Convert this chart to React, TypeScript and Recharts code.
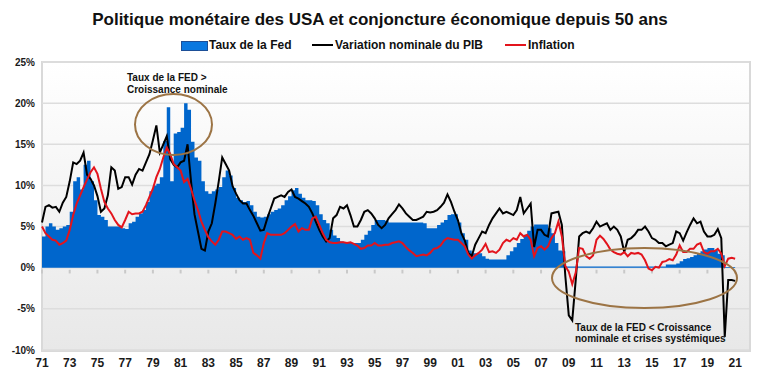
import { ComposedChart, Area, Line, XAxis, YAxis, CartesianGrid, ReferenceLine } from 'recharts';

// quarterly values, 1971 Q1 -> 2021 Q1 (in %)
const fedRate = [
  3.8, 5.0, 5.4, 5.0, // 1971
  4.6, 4.8, 5.0, 5.2, // 1972
  6.8, 10.5, 11.0, 9.5, // 1973
  12.5, 13.0, 10.5, 8.2, // 1974
  6.4, 6.2, 5.8, 5.0, // 1975
  5.0, 5.0, 5.0, 4.8, // 1976
  4.7, 5.4, 5.6, 6.2, // 1977
  6.6, 7.0, 8.0, 9.3, // 1978
  10.0, 10.2, 11.0, 15.4, // 1979
  19.5, 10.5, 16.3, 16.5, // 1980
  17.0, 20.0, 19.2, 15.3, // 1981
  13.4, 13.0, 10.5, 9.3, // 1982
  9.0, 9.3, 9.5, 9.8, // 1983
  11.0, 11.8, 11.2, 9.7, // 1984
  8.5, 8.2, 8.0, 8.1, // 1985
  7.6, 6.8, 6.2, 6.1, // 1986
  6.2, 6.5, 6.8, 7.0, // 1987
  7.2, 7.6, 8.2, 8.7, // 1988
  9.4, 9.7, 9.0, 8.5, // 1989
  8.2, 8.2, 8.1, 7.6, // 1990
  6.5, 5.8, 5.4, 4.6, // 1991
  3.9, 3.6, 3.2, 3.0, // 1992
  3.0, 3.0, 3.0, 3.0, // 1993
  3.4, 4.0, 4.5, 5.2, // 1994
  5.8, 5.8, 5.8, 5.7, // 1995
  5.5, 5.5, 5.5, 5.5, // 1996
  5.5, 5.5, 5.5, 5.5, // 1997
  5.5, 5.5, 5.4, 4.8, // 1998
  4.8, 4.8, 5.2, 5.5, // 1999
  5.8, 6.4, 6.5, 6.5, // 2000
  5.5, 4.2, 3.4, 2.1, // 2001
  1.75, 1.75, 1.75, 1.4, // 2002
  1.1, 1.0, 1.0, 1.0, // 2003
  1.0, 1.0, 1.5, 2.0, // 2004
  2.5, 3.0, 3.5, 4.0, // 2005
  4.5, 5.0, 5.25, 5.25, // 2006
  5.25, 5.25, 4.8, 4.2, // 2007
  3.0, 2.1, 2.0, 0.15, // 2008
  0.15, 0.15, 0.15, 0.15, // 2009
  0.15, 0.15, 0.15, 0.15, // 2010
  0.15, 0.15, 0.15, 0.15, // 2011
  0.15, 0.15, 0.15, 0.15, // 2012
  0.15, 0.15, 0.15, 0.15, // 2013
  0.15, 0.15, 0.15, 0.15, // 2014
  0.15, 0.15, 0.15, 0.15, // 2015
  0.38, 0.38, 0.4, 0.5, // 2016
  0.8, 1.05, 1.15, 1.3, // 2017
  1.5, 1.8, 2.0, 2.2, // 2018
  2.4, 2.4, 2.15, 1.7, // 2019
  1.5, 0.1, 0.1, 0.1, // 2020
  0.1, // 2021
];

const gdpGrowth = [
  5.5, 7.4, 7.6, 7.3, // 1971
  7.4, 6.8, 7.9, 8.6, // 1972
  10.5, 12.8, 12.6, 13.0, // 1973
  14.0, 11.3, 10.8, 10.0, // 1974
  8.7, 6.8, 7.2, 8.8, // 1975
  12.2, 11.8, 9.6, 9.8, // 1976
  11.0, 11.0, 10.1, 11.3, // 1977
  12.0, 11.8, 12.8, 13.8, // 1978
  15.5, 17.3, 14.0, 15.0, // 1979
  16.0, 13.2, 12.5, 12.2, // 1980
  12.8, 13.0, 15.0, 10.5, // 1981
  6.5, 4.4, 2.3, 2.1, // 1982
  4.4, 5.4, 7.8, 10.5, // 1983
  13.4, 12.6, 11.8, 9.9, // 1984
  9.0, 8.2, 7.8, 7.8, // 1985
  7.0, 6.3, 5.4, 4.5, // 1986
  4.6, 6.0, 7.2, 8.4, // 1987
  8.6, 8.8, 8.6, 9.2, // 1988
  9.5, 8.6, 8.4, 8.1, // 1989
  7.8, 7.4, 6.6, 5.6, // 1990
  4.6, 3.8, 3.2, 3.6, // 1991
  6.0, 6.4, 7.4, 7.2, // 1992
  7.6, 6.4, 5.0, 5.0, // 1993
  5.8, 6.8, 7.0, 6.6, // 1994
  6.0, 5.2, 4.8, 5.2, // 1995
  6.0, 6.5, 7.0, 7.7, // 1996
  7.2, 6.6, 6.2, 5.8, // 1997
  5.8, 6.0, 6.2, 6.8, // 1998
  6.7, 6.8, 7.0, 7.4, // 1999
  7.9, 8.9, 8.0, 6.8, // 2000
  5.8, 4.2, 3.3, 1.8, // 2001
  1.4, 2.8, 3.6, 4.4, // 2002
  4.2, 5.2, 6.0, 6.6, // 2003
  7.2, 6.6, 6.8, 6.6, // 2004
  6.4, 7.0, 8.6, 6.6, // 2005
  7.2, 7.8, 2.5, 4.6, // 2006
  4.6, 4.0, 3.8, 6.6, // 2007
  6.7, 6.8, 5.2, -1.0, // 2008
  -5.8, -6.4, -1.5, 3.8, // 2009
  4.2, 4.4, 4.2, 4.8, // 2010
  5.6, 5.0, 5.2, 5.4, // 2011
  4.6, 5.0, 4.6, 3.8, // 2012
  1.9, 3.4, 3.6, 4.0, // 2013
  4.6, 4.6, 5.0, 4.4, // 2014
  3.6, 3.4, 3.0, 3.0, // 2015
  2.6, 2.8, 3.0, 4.4, // 2016
  4.2, 3.3, 4.3, 5.2, // 2017
  6.0, 5.4, 5.6, 4.4, // 2018
  3.8, 3.8, 4.0, 4.7, // 2019
  3.6, -8.4, -1.5, -1.5, // 2020
  -1.6, // 2021
];

const inflation = [
  5.0, 4.2, 3.8, 3.4, // 1971
  3.3, 2.8, 3.0, 3.3, // 1972
  4.6, 6.4, 7.8, 8.8, // 1973
  9.8, 10.7, 11.6, 12.2, // 1974
  11.4, 9.6, 8.0, 7.2, // 1975
  6.6, 5.8, 5.2, 4.9, // 1976
  5.8, 6.8, 6.5, 6.6, // 1977
  6.6, 6.8, 7.6, 8.6, // 1978
  9.6, 11.0, 12.0, 13.4, // 1979
  14.6, 13.8, 12.6, 12.2, // 1980
  11.8, 10.4, 10.8, 9.6, // 1981
  8.2, 7.0, 5.6, 4.6, // 1982
  3.7, 3.2, 2.8, 3.4, // 1983
  4.4, 4.4, 4.2, 4.0, // 1984
  3.5, 3.8, 3.4, 3.6, // 1985
  3.4, 1.8, 1.5, 1.1, // 1986
  3.0, 4.2, 4.0, 4.0, // 1987
  4.0, 4.0, 4.2, 4.6, // 1988
  5.0, 5.3, 4.4, 4.8, // 1989
  4.6, 4.6, 6.0, 6.2, // 1990
  5.2, 4.2, 3.4, 3.1, // 1991
  3.0, 3.0, 3.1, 3.1, // 1992
  3.0, 3.1, 2.9, 2.7, // 1993
  2.3, 2.4, 2.7, 2.7, // 1994
  3.0, 2.7, 2.7, 2.8, // 1995
  2.8, 3.0, 3.1, 3.2, // 1996
  3.0, 2.5, 2.1, 1.8, // 1997
  1.4, 1.5, 1.6, 1.5, // 1998
  1.8, 2.3, 2.4, 2.7, // 1999
  3.3, 3.6, 3.5, 3.4, // 2000
  3.4, 3.0, 2.6, 1.6, // 2001
  1.1, 1.5, 1.8, 2.2, // 2002
  2.9, 1.9, 2.0, 1.8, // 2003
  2.2, 3.0, 3.4, 3.2, // 2004
  3.6, 3.4, 4.2, 3.8, // 2005
  4.0, 3.4, 1.4, 2.4, // 2006
  2.6, 2.2, 2.6, 3.6, // 2007
  4.2, 5.6, 3.8, 0.2, // 2008
  -0.5, -2.0, -0.6, 2.4, // 2009
  2.3, 1.4, 1.1, 1.5, // 2010
  3.4, 3.9, 3.5, 2.9, // 2011
  2.2, 1.9, 1.7, 1.6, // 2012
  1.9, 1.4, 1.8, 1.7, // 2013
  1.8, 1.6, 0.9, -0.1, // 2014
  -0.3, 0.1, 0.0, 0.7, // 2015
  0.8, 1.05, 0.9, 1.6, // 2016
  2.7, 1.9, 1.9, 2.3, // 2017
  2.3, 2.8, 3.0, 1.9, // 2018
  1.7, 2.0, 2.0, 2.3, // 2019
  1.7, 0.2, 1.1, 1.2, // 2020
  1.1, // 2021
];

const tickYears = [1971, 1973, 1975, 1977, 1979, 1981, 1983, 1985, 1987, 1989, 1991, 1993, 1995,
  1997, 1999, 2001, 2003, 2005, 2007, 2009, 2011, 2013, 2015, 2017, 2019, 2021];
const tickLabels = ['71', '73', '75', '77', '79', '81', '83', '85', '87', '89', '91', '93', '95',
  '97', '99', '01', '03', '05', '07', '09', '11', '13', '15', '17', '19', '21'];
const yTicks = [-10, -5, 0, 5, 10, 15, 20, 25];

const data = fedRate.map((fed, i) => ({
  t: 1971 + i / 4,
  fed,
  gdp: gdpGrowth[i],
  infl: inflation[i],
}));

const FONT = '"Liberation Sans", Arial, sans-serif';
const BLUE = '#0066cc';
const RED = '#e3141c';
const BROWN = '#9c7445';

export default function App() {
  return (
    <div style={{ position: 'absolute', left: 0, top: 0, width: 760, height: 376, background: '#fff', fontFamily: FONT, color: '#111' }}>
      <div style={{ position: 'absolute', left: 0, top: 10, width: 760, textAlign: 'center', fontSize: 17, fontWeight: 'bold', lineHeight: '20px' }}>
        Politique monétaire des USA et conjoncture économique depuis 50 ans
      </div>

      {/* legend */}
      <div style={{ position: 'absolute', left: 181, top: 41, width: 25, height: 8, background: '#0a78e0', border: '1px solid #1d4f97' }} />
      <div style={{ position: 'absolute', left: 209, top: 38, fontSize: 12, fontWeight: 'bold', lineHeight: '14px' }}>Taux de la Fed</div>
      <div style={{ position: 'absolute', left: 312, top: 44, width: 21, height: 2, background: '#000' }} />
      <div style={{ position: 'absolute', left: 335, top: 38, fontSize: 12, fontWeight: 'bold', lineHeight: '14px' }}>Variation nominale du PIB</div>
      <div style={{ position: 'absolute', left: 505, top: 44, width: 21, height: 2, background: RED }} />
      <div style={{ position: 'absolute', left: 528, top: 38, fontSize: 12, fontWeight: 'bold', lineHeight: '14px' }}>Inflation</div>

      {/* plot background */}
      <div style={{ position: 'absolute', left: 41, top: 61, width: 710, height: 291, boxSizing: 'border-box', border: '2px solid #d9d9d9', background: 'linear-gradient(#ffffff, #e8e8e8)' }} />

      <div style={{ position: 'absolute', left: 0, top: 0 }}>
        <ComposedChart width={760} height={376} data={data} margin={{ top: 62, right: 11, bottom: 0, left: 0 }}>
          <CartesianGrid vertical={false} stroke="#dddddd" strokeWidth={1.5} />
          <XAxis
            dataKey="t"
            type="number"
            domain={[1971, 2022]}
            ticks={tickYears}
            interval={0}
            tickFormatter={(v) => tickLabels[tickYears.indexOf(v)]}
            height={26}
            axisLine={false}
            tickLine={false}
            tickSize={0}
            tickMargin={8}
            tick={{ fontSize: 12, fontWeight: 'bold', fill: '#1a1a1a', fontFamily: FONT }}
          />
          <YAxis
            type="number"
            domain={[-10, 25]}
            ticks={yTicks}
            interval={0}
            width={42}
            axisLine={false}
            tickLine={false}
            tickSize={0}
            tickMargin={7}
            tickFormatter={(v) => `${v}%`}
            tick={{ fontSize: 10, fontWeight: 'bold', fill: '#1a1a1a', fontFamily: FONT }}
          />
          {tickYears.map((y) => (
            <ReferenceLine key={y} segment={[{ x: y, y: -0.25 }, { x: y, y: -0.7 }]} stroke="#c9c9c9" strokeWidth={2} />
          ))}
          <Area type="stepAfter" dataKey="fed" baseValue={0} fill={BLUE} fillOpacity={1} stroke="none" isAnimationActive={false} />
          <Line type="linear" dataKey="gdp" stroke="#000" strokeWidth={2} dot={false} isAnimationActive={false} />
          <Line type="linear" dataKey="infl" stroke={RED} strokeWidth={2} dot={false} isAnimationActive={false} />
        </ComposedChart>
      </div>

      {/* annotations */}
      <svg width={760} height={376} style={{ position: 'absolute', left: 0, top: 0, pointerEvents: 'none' }}>
        <ellipse cx={173.5} cy={124.5} rx={38.5} ry={30.5} fill="none" stroke={BROWN} strokeWidth={2} />
        <ellipse cx={644.5} cy={278} rx={92.5} ry={30} fill="none" stroke={BROWN} strokeWidth={2} />
        <g fontFamily={FONT} fontSize={10} fontWeight="bold" fill="#111">
          <text x={127} y={81}>Taux de la FED &gt;</text>
          <text x={127} y={93}>Croissance nominale</text>
          <text x={575} y={331}>Taux de la FED &lt; Croissance</text>
          <text x={575} y={342}>nominale  et crises systémiques</text>
        </g>
      </svg>
    </div>
  );
}
